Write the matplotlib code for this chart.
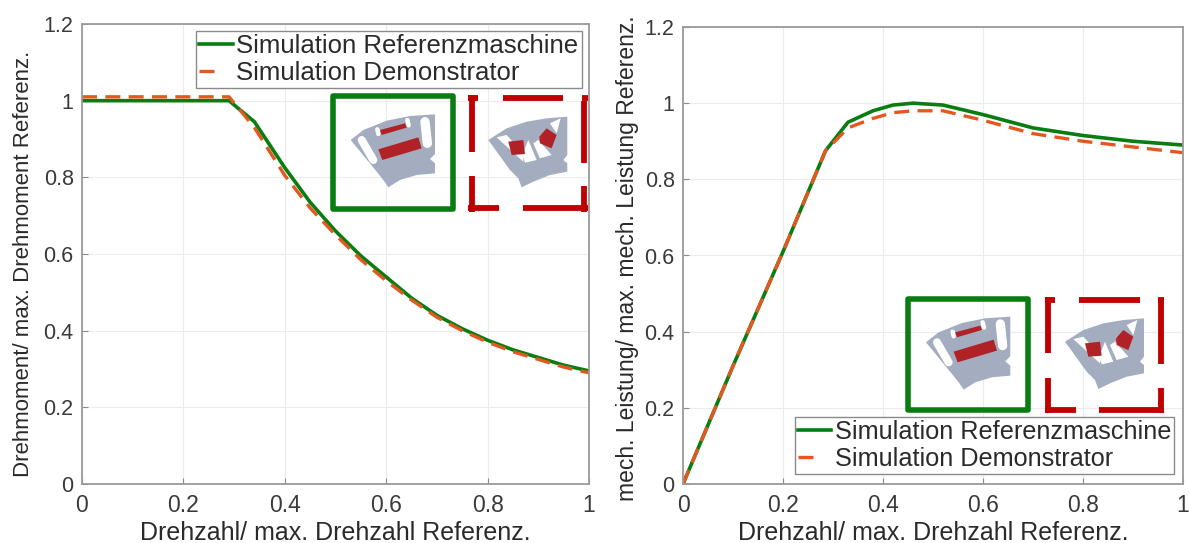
import matplotlib
matplotlib.use("Agg")
import matplotlib.pyplot as plt
from matplotlib.lines import Line2D
from matplotlib.patches import Polygon, Rectangle

plt.rcParams["font.family"] = ["Liberation Sans", "DejaVu Sans"]
plt.rcParams["text.color"] = "#2a2a2a"
plt.rcParams["axes.labelcolor"] = "#2a2a2a"

GREEN = "#0a7d12"
ORANGE = "#e2581f"
RED = "#c00000"
MAGNET = "#b02226"
STEEL = "#a4adc0"

speed_t = [0, 0.29, 0.34, 0.40, 0.45, 0.50, 0.55, 0.60, 0.65, 0.70, 0.75, 0.80, 0.85, 0.90, 0.95, 1.0]
torque_ref = [1.0, 1.0, 0.945, 0.825, 0.735, 0.66, 0.595, 0.54, 0.485, 0.44, 0.405, 0.375, 0.35, 0.33, 0.31, 0.295]
torque_dem = [1.01, 1.01, 0.93, 0.805, 0.72, 0.65, 0.585, 0.53, 0.48, 0.435, 0.40, 0.37, 0.345, 0.325, 0.305, 0.29]

speed_p = [0, 0.10, 0.20, 0.285, 0.33, 0.38, 0.42, 0.46, 0.52, 0.60, 0.70, 0.80, 0.90, 1.0]
power_ref = [0, 0.31, 0.61, 0.875, 0.95, 0.98, 0.995, 1.0, 0.995, 0.97, 0.935, 0.915, 0.90, 0.89]
power_dem = [0, 0.31, 0.61, 0.875, 0.935, 0.96, 0.975, 0.98, 0.98, 0.955, 0.92, 0.90, 0.885, 0.87]

ticks = [0, 0.2, 0.4, 0.6, 0.8, 1]
yticks = [0, 0.2, 0.4, 0.6, 0.8, 1, 1.2]
tick_labels = ["0", "0.2", "0.4", "0.6", "0.8", "1"]
ytick_labels = ["0", "0.2", "0.4", "0.6", "0.8", "1", "1.2"]
legend_names = ["Simulation Referenzmaschine", "Simulation Demonstrator"]

W, H = 1189, 543
fig = plt.figure(figsize=(W / 100, H / 100), dpi=100)


def px_axes(x0, y0, x1, y1):
    return fig.add_axes([x0 / W, 1 - y1 / H, (x1 - x0) / W, (y1 - y0) / H])


def fx(x, a):
    return (x + a / 3) / W


def fy(y, b):
    return 1 - (y + b / 3) / H


def poly(x, y, pts, color, z=1):
    # pts are in 3x crop pixels relative to the box corner
    fig.add_artist(Polygon([(fx(x, a), fy(y, b)) for a, b in pts], color=color, lw=0,
                           zorder=z, transform=fig.transFigure))


def slot(x, y, p0, p1, lw, color="white"):
    fig.add_artist(Line2D([fx(x, p0[0]), fx(x, p1[0])], [fy(y, p0[1]), fy(y, p1[1])], color=color,
                          lw=lw, solid_capstyle="round", zorder=2, transform=fig.transFigure))


def motor_ref(x, y):
    poly(x, y, [(62, 138), (100, 108), (170, 80), (240, 66), (315, 61), (315, 180), (300, 195),
                (315, 208), (315, 238), (260, 243), (210, 258), (175, 280), (160, 258), (140, 233)], STEEL)
    slot(x, y, (95, 138), (130, 198), 5.8)
    slot(x, y, (285, 83), (292, 148), 6.7)
    slot(x, y, (142, 106), (145, 120), 3.2)
    slot(x, y, (232, 78), (236, 94), 3.2)
    poly(x, y, [(145, 166), (265, 130), (275, 163), (157, 198)], MAGNET, 3)
    poly(x, y, [(150, 108), (225, 88), (230, 101), (155, 123)], MAGNET, 3)


def motor_dem(x, y):
    poly(x, y, [(60, 135), (115, 100), (175, 80), (235, 70), (297, 65), (297, 180), (285, 195),
                (297, 205), (297, 230), (245, 240), (195, 260), (160, 277), (150, 250), (125, 225)], STEEL)
    poly(x, y, [(85, 127), (115, 120), (165, 175), (165, 200)], "white", 2)
    poly(x, y, [(180, 135), (205, 195), (170, 203), (162, 180)], "white", 2)
    poly(x, y, [(195, 145), (215, 190), (250, 180), (210, 135)], "white", 2)
    poly(x, y, [(245, 85), (277, 70), (265, 115), (255, 100)], "white", 2)
    poly(x, y, [(120, 140), (165, 135), (170, 177), (130, 180)], MAGNET, 3)
    poly(x, y, [(235, 100), (265, 120), (250, 160), (215, 145), (213, 125)], MAGNET, 3)


def green_box(x0, y0, w, h):
    fig.add_artist(Rectangle((x0 / W, 1 - (y0 + h) / H), w / W, h / H, fill=False, ec=GREEN,
                             lw=4, joinstyle="round", transform=fig.transFigure))


def red_box(x0, y0):
    # dashes placed by hand, 3x crop pixels again
    segs = [((0, 10), (30, 10)), ((103, 10), (285, 10)), ((340, 10), (358, 10)),
            ((0, 340), (93, 340)), ((163, 340), (358, 340)),
            ((10, 0), (10, 170)), ((10, 243), (10, 350)),
            ((348, 17), (348, 203)), ((348, 273), (348, 350))]
    for (a, b), (c, d) in segs:
        fig.add_artist(Line2D([fx(x0, a), fx(x0, c)], [fy(y0, b), fy(y0, d)], color=RED, lw=4.2,
                              solid_capstyle="butt", transform=fig.transFigure))


def panel(ax, x, ref, dem, ylabel, ylab_size, ylab_pos, legend_pos, legend_size):
    l1, = ax.plot(x, ref, color=GREEN, lw=2.6)
    ax.plot(x, dem, color=ORANGE, lw=2.4, ls=(0, (4.5, 2.5)))
    l2 = Line2D([], [], color=ORANGE, lw=2.4, ls=(0, (4.5, 9)))
    ax.set_xlim(0, 1)
    ax.set_ylim(0, 1.2)
    ax.set_xticks(ticks, tick_labels)
    ax.set_yticks(yticks, ytick_labels)
    ax.grid(color="#ececec", lw=0.8)
    ax.tick_params(direction="in", length=4, color="#8a8a8a", labelcolor="#3a3a3a")
    ax.tick_params(axis="x", labelsize=16.5, pad=7)
    ax.tick_params(axis="y", labelsize=15.5, pad=6)
    ax.set_xlabel("Drehzahl/ max. Drehzahl Referenz.", fontsize=18, labelpad=3)
    ax.set_ylabel(ylabel, fontsize=ylab_size)
    ax.yaxis.set_label_coords(*ylab_pos)
    for s in ax.spines.values():
        s.set_color("#9a9a9a")
        s.set_linewidth(1.3)
    ax.legend([l1, l2], legend_names, loc="lower left", bbox_to_anchor=legend_pos, fontsize=legend_size,
              frameon=True, fancybox=False, edgecolor="#8a8a8a", framealpha=1, borderpad=0.12,
              borderaxespad=0, labelspacing=0.12, handlelength=1.3, handletextpad=0.15)


ax1 = px_axes(82, 24, 589, 484)
panel(ax1, speed_t, torque_ref, torque_dem, "Drehmoment/ max. Drehmoment Referenz.", 16,
      (-0.095, 0.478), (0.225, 0.861), 18.5)

ax2 = px_axes(683, 27, 1183, 484)
panel(ax2, speed_p, power_ref, power_dem, "mech. Leistung/ max. mech. Leistung Referenz.", 16.5,
      (-0.088, 0.495), (0.224, 0.022), 18.2)

green_box(332.5, 96.5, 120, 112)
red_box(468.3, 95)
motor_ref(330, 94)
motor_dem(468.3, 95)
green_box(907.5, 299, 120, 111)
red_box(1045, 296.7)
motor_ref(905.3, 296.3)
motor_dem(1045, 296.7)

fig.savefig("out.png", dpi=100)
